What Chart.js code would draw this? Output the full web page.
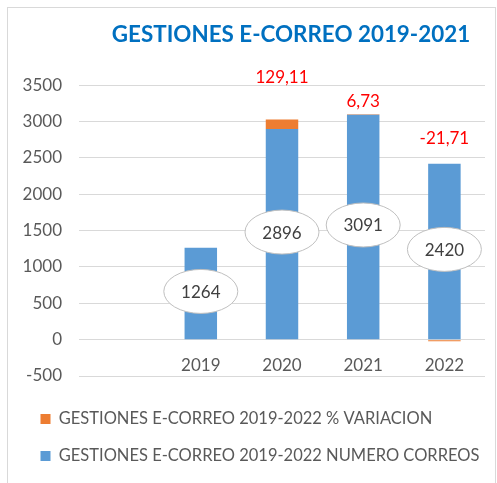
<!DOCTYPE html>
<html><head><meta charset="utf-8">
<script src="https://cdn.jsdelivr.net/npm/chart.js@4/dist/chart.umd.min.js"></script>
<style>
html,body{margin:0;padding:0;background:#fff;overflow:hidden}
#wrap{position:relative;width:497px;height:483px}
#frame{position:absolute;left:7px;top:7px;width:487px;height:520px;border:1px solid #d9d9d9}
canvas{position:absolute;left:0;top:0}
</style></head><body>
<div id="wrap"><div id="frame"></div><canvas id="c" width="497" height="483"></canvas></div>
<script>
// ---- data ----
const categories = ['', '2019', '2020', '2021', '2022'];
const numeroCorreos = [null, 1264, 2896, 3091, 2420];
const variacion = [null, null, 129.11, 6.73, -21.71];
const seriesNames = ['GESTIONES E-CORREO 2019-2022 NUMERO CORREOS', 'GESTIONES E-CORREO 2019-2022 % VARIACION'];
const titleText = 'GESTIONES E-CORREO 2019-2021';
const yMin = -500, yMax = 3500, yStep = 500;

// ---- style ----
const labelLift = [0, 0, 42, 13, 25]; // px above stack top for % labels (manually placed in source)
const BLUE = '#5B9BD5', ORANGE = '#ED7D31';

Chart.defaults.font.family = 'Lato';
Chart.defaults.color = '#595959';

const fmt = v => v.toFixed(2).replace('.', ',');

const labelsPlugin = {
  id: 'labels',
  afterLayout(chart) {
    const tb = chart.titleBlock;
    const ca = chart.chartArea;
    const w = tb.right - tb.left;
    const c = (ca.left + ca.right) / 2 + 9;
    tb.left = c - w / 2; tb.right = c + w / 2;
  },
  afterDatasetsDraw(chart) {
    const ctx = chart.ctx;
    const blue = chart.getDatasetMeta(0).data;
    const orange = chart.getDatasetMeta(1).data;
    ctx.save();
    ctx.textAlign = 'center';
    ctx.textBaseline = 'middle';
    ctx.font = '17px Lato';
    blue.forEach((bar, i) => {
      if (numeroCorreos[i] == null) return;
      const cy = (bar.y + bar.base) / 2 - 2;
      ctx.beginPath();
      ctx.ellipse(bar.x, cy, 37, 22, 0, 0, Math.PI * 2);
      ctx.fillStyle = '#ffffff';
      ctx.fill();
      ctx.lineWidth = 1;
      ctx.strokeStyle = '#bfbfbf';
      ctx.stroke();
      ctx.fillStyle = '#404040';
      ctx.fillText(String(numeroCorreos[i]), bar.x, cy + 1);
    });
    orange.forEach((bar, i) => {
      if (variacion[i] == null) return;
      const top = Math.min(bar.y, bar.base, blue[i].y);
      ctx.fillStyle = '#FF0000';
      ctx.fillText(fmt(variacion[i]), bar.x, top - labelLift[i]);
    });
    ctx.restore();
  }
};

new Chart(document.getElementById('c'), {
  type: 'bar',
  data: {
    labels: categories,
    datasets: [
      { label: seriesNames[0], data: numeroCorreos, backgroundColor: BLUE, stack: 's',
        categoryPercentage: 0.4, barPercentage: 1 },
      { label: seriesNames[1], data: variacion, backgroundColor: ORANGE, stack: 's',
        categoryPercentage: 0.4, barPercentage: 1 }
    ]
  },
  options: {
    responsive: false,
    animation: false,
    layout: { padding: { left: 20, right: 12, top: 0, bottom: 8.75 } },
    plugins: {
      title: { display: true, text: titleText, color: '#0070C0',
        font: { size: 22.4, weight: 'bold', family: 'Lato' }, padding: { top: 21.6, bottom: 36.6 } },
      legend: {
        position: 'bottom', align: 'start', reverse: true,
        title: { display: true, text: '', font: { size: 14.25, lineHeight: 1 }, padding: 0 },
        labels: { boxWidth: 10, boxHeight: 10, padding: 20.5, color: '#595959', font: { size: 16.5 } }
      },
      tooltip: { enabled: false }
    },
    scales: {
      x: {
        stacked: true,
        position: { y: 0 },
        grid: { display: false, drawTicks: false },
        border: { display: false },
        ticks: { padding: 16, color: '#595959', font: { size: 17 } }
      },
      y: {
        stacked: true,
        min: yMin, max: yMax,
        ticks: { stepSize: yStep, padding: 17, color: '#595959', font: { size: 17 },
          callback: v => String(v) },
        grid: { color: '#d9d9d9', lineWidth: 1, drawTicks: false },
        border: { display: false },
        afterFit(scale) { scale.width = 59; }
      }
    }
  },
  plugins: [labelsPlugin]
});
</script>
</body></html>
